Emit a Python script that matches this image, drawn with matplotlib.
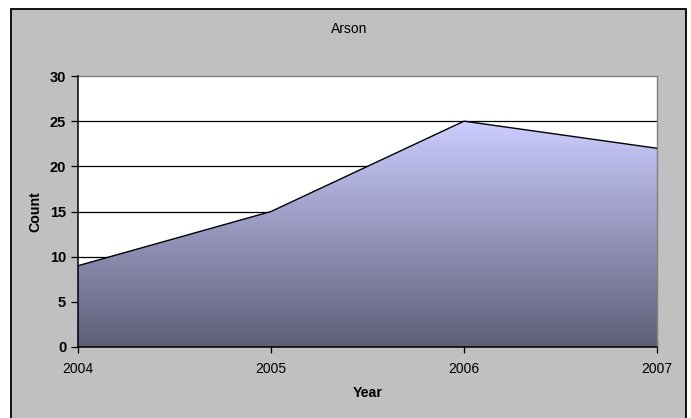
import numpy as np
import matplotlib.pyplot as plt
from matplotlib.patches import Rectangle, Polygon
from matplotlib.colors import LinearSegmentedColormap

plt.rcParams['font.family'] = ['Liberation Sans', 'DejaVu Sans']

# data
years = [2004, 2005, 2006, 2007]
counts = [9, 15, 25, 22]
y_ticks = [0, 5, 10, 15, 20, 25, 30]

fig = plt.figure(figsize=(6.91, 4.18), dpi=100)
fig.patch.set_facecolor('white')

# gray chart background with black frame (bottom edge runs off the image)
W, H = 691, 418
bg = Rectangle((10.5 / W, -0.05), (686 - 10.5) / W, 1.05 - 9.5 / H,
               transform=fig.transFigure, facecolor='#C0C0C0',
               edgecolor='black', linewidth=1.3, zorder=-10)
fig.patches.append(bg)

ax = fig.add_axes([78 / W, 1 - 347 / H, (657 - 78) / W, (347 - 76) / H])
ax.set_zorder(1)
ax.set_facecolor('white')

# gridlines
for v in y_ticks[1:-1]:
    ax.axhline(v, color='black', linewidth=0.9, zorder=1)

# gradient-filled area
verts = [(years[0], 0)] + list(zip(years, counts)) + [(years[-1], 0)]
poly = Polygon(verts, closed=True, facecolor='none', edgecolor='none')
ax.add_patch(poly)
cmap = LinearSegmentedColormap.from_list('grad', ['#5E5E78', '#CCCCFF'])
grad = np.linspace(0, 1, 256).reshape(-1, 1)
im = ax.imshow(grad, cmap=cmap, origin='lower', aspect='auto',
               extent=[years[0], years[-1], 0, max(counts)], zorder=2)
im.set_clip_path(poly)
ax.plot(years, counts, color='black', linewidth=1.0, zorder=3)
ax.set_xlim(years[0], years[-1])
ax.set_ylim(0, 30)

ax.set_xticks(years)
ax.set_xticklabels([str(y) for y in years], fontsize=10)
ax.set_yticks(y_ticks)
ax.set_yticklabels([str(v) for v in y_ticks], fontsize=10.5, fontweight='bold')
ax.tick_params(axis='y', direction='out', length=5, width=0.9, pad=3.5)
ax.tick_params(axis='x', direction='inout', length=8, width=0.9, pad=6.5)

for side in ['left', 'bottom']:
    ax.spines[side].set_color('black')
    ax.spines[side].set_linewidth(1.1)
    ax.spines[side].set_zorder(4)
for side in ['top', 'right']:
    ax.spines[side].set_color('#808080')
    ax.spines[side].set_linewidth(1.0)

fig.text(35 / W, 1 - 212 / H, 'Count', fontsize=10.2, fontweight='bold',
         rotation=90, ha='center', va='center')
fig.text(368 / W, 1 - 393 / H, 'Year', fontsize=10.2, fontweight='bold',
         ha='center', va='center')
fig.text(349 / W, 1 - 29 / H, 'Arson', fontsize=10, ha='center', va='center')

fig.savefig('out.png', dpi=100)
